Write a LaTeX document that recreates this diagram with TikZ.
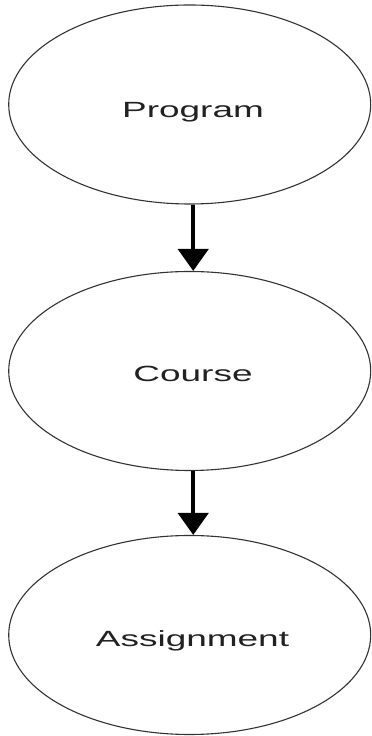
\documentclass[tikz,border=0pt]{standalone}
\usepackage{fontspec}
\setmainfont{Liberation Sans}
\usetikzlibrary{shapes.geometric,arrows.meta}
\tikzset{
  entity/.style={draw=black!80, line width=1.1pt, ellipse, minimum width=362pt, minimum height=199pt, inner sep=0pt},
  lbl/.style={anchor=base, inner sep=0pt, text=black!87, font=\fontsize{22}{26}\selectfont},
  link/.style={line width=4.5pt, -{Triangle[width=30pt,length=22pt]}, black}
}
\newcommand{\wide}[1]{\scalebox{1.68}[1]{#1}}
\begin{document}
\begin{tikzpicture}[x=1pt,y=1pt]
\fill[white] (0,0) rectangle (372,736);
\useasboundingbox (0,0) rectangle (372,736);
\node[entity] (e1) at (189.7,631.5) {};
\node[entity] (e2) at (189.7,365) {};
\node[entity] (e3) at (189.7,101) {};
\node[lbl] (t1) at (193,618.7) {\wide{Program}};
\node[lbl] (t2) at (193,354.3) {\wide{Course}};
\node[lbl] (t3) at (192.5,89.3) {\wide{Assignment}};
\draw[link] ([xshift=3.5pt]e1.south) -- ([xshift=3.5pt]e2.north);
\draw[link] ([xshift=3.5pt]e2.south) -- ([xshift=3.5pt]e3.north);
\end{tikzpicture}
\end{document}
